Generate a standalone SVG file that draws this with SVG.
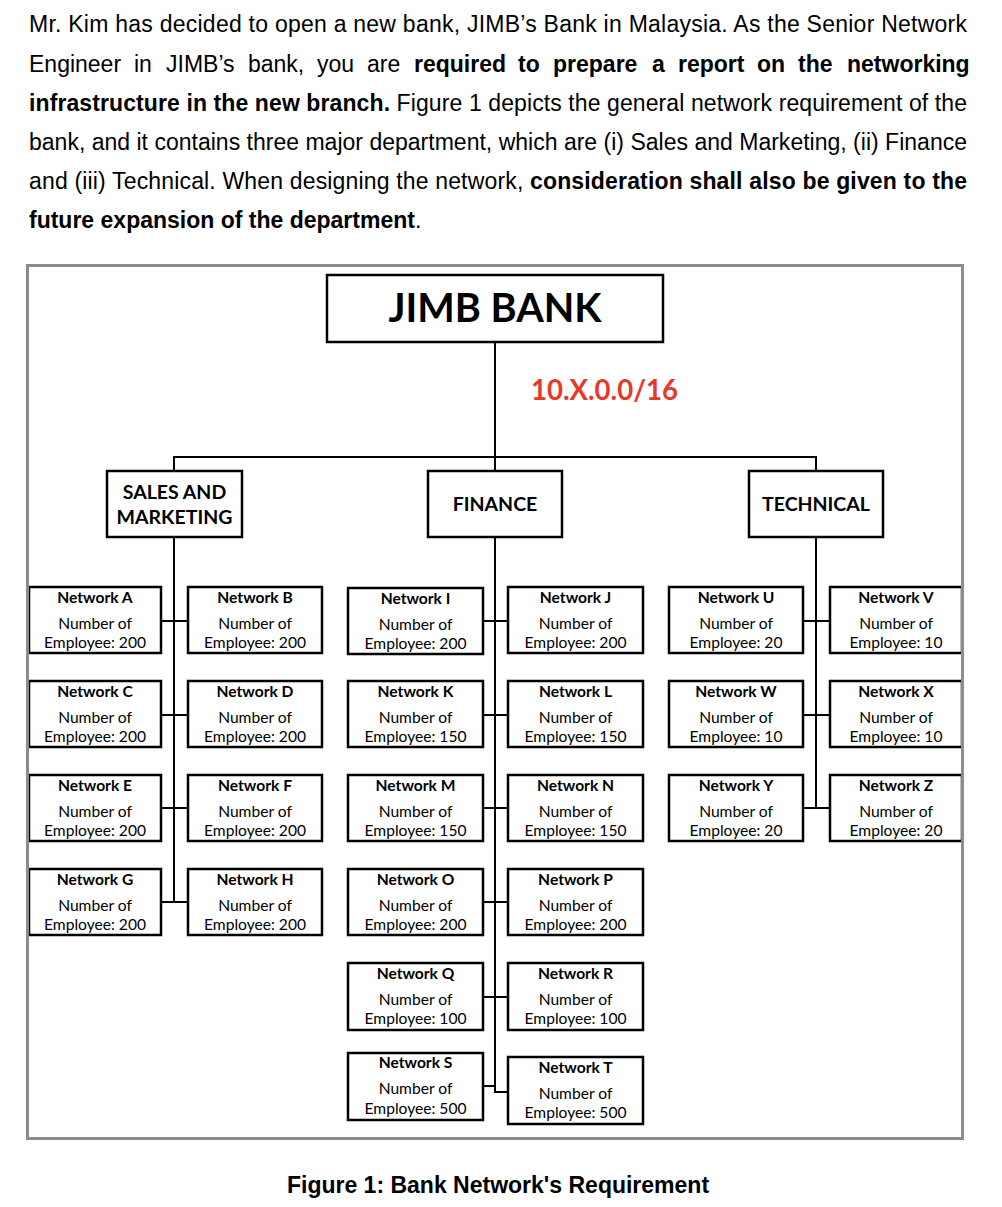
<svg xmlns="http://www.w3.org/2000/svg" width="1002" height="1207" viewBox="0 0 1002 1207">
<style>
.p{font-family:"Liberation Sans",Arial,sans-serif;font-size:23px;fill:#000}
.b{font-weight:bold}
.box{fill:#fff;stroke:#000;stroke-width:2.5}
.c{fill:none;stroke:#000;stroke-width:2}
.t{font-family:Lato,"Open Sans",sans-serif;font-size:15.6px;fill:#000;text-anchor:middle}
.tb{font-weight:bold}
.dept{font-family:Lato,"Open Sans",sans-serif;font-size:19.5px;font-weight:bold;text-anchor:middle}
</style>
<rect width="1002" height="1207" fill="#fff"/>
<g id="paragraph">
<text class="p" x="29" y="32" textLength="938" lengthAdjust="spacing">Mr. Kim has decided to open a new bank, JIMB’s Bank in Malaysia. As the Senior Network</text>
<text class="p" y="71.5"><tspan x="29">Engineer</tspan><tspan x="134">in</tspan><tspan x="166">JIMB’s</tspan><tspan x="248">bank,</tspan><tspan x="317">you</tspan><tspan x="367">are</tspan><tspan class="b" x="414">required</tspan><tspan class="b" x="518">to</tspan><tspan class="b" x="553">prepare</tspan><tspan class="b" x="652">a</tspan><tspan class="b" x="678">report</tspan><tspan class="b" x="757">on</tspan><tspan class="b" x="798">the</tspan><tspan class="b" x="847">networking</tspan></text>
<text class="p" x="29" y="110.5" textLength="938" lengthAdjust="spacing"><tspan class="b">infrastructure in the new branch.</tspan> Figure 1 depicts the general network requirement of the</text>
<text class="p" x="29" y="149.5" textLength="938" lengthAdjust="spacing">bank, and it contains three major department, which are (i) Sales and Marketing, (ii) Finance</text>
<text class="p" x="29" y="188.5" textLength="938" lengthAdjust="spacing">and (iii) Technical. When designing the network, <tspan class="b">consideration shall also be given to the</tspan></text>
<text class="p" x="29" y="227.5"><tspan class="b">future expansion of the department</tspan>.</text>
</g>
<g id="connectors">
<path class="c" d="M495 342V471M174 471V457H816V471"/>
<path class="c" d="M174 537V902M161 621H188M161 715H188M161 808H188M161 902H188"/>
<path class="c" d="M495 537V1092H508M483 621H508M483 715H508M483 808H508M483 902H508M483 997H508M483 1086H495"/>
<path class="c" d="M816 537V808M803 621H830M803 715H830M803 808H830"/>
</g>
<g id="jimb-bank">
<rect class="box" x="327" y="275" width="336" height="67"/>
<text x="495" y="322" style="font-family:Lato,'Open Sans',sans-serif;font-size:39.7px;font-weight:bold;text-anchor:middle">JIMB BANK</text>
</g>
<text id="subnet" x="531" y="400" style="font-family:Lato,'Open Sans',sans-serif;font-size:27.6px;font-weight:bold;fill:#e5392a">10.X.0.0/16</text>
<g id="sales"><rect class="box" x="107" y="471" width="135" height="66"/><text class="dept" x="174.5" y="499">SALES AND</text><text class="dept" x="174.5" y="524">MARKETING</text></g>
<g id="finance"><rect class="box" x="428" y="471" width="134" height="66"/><text class="dept" x="495" y="511">FINANCE</text></g>
<g id="technical"><rect class="box" x="749" y="471" width="134" height="66"/><text class="dept" x="816" y="511">TECHNICAL</text></g>

<g id="net-A"><rect class="box" x="29" y="587" width="132" height="66"/><text class="t tb" x="95" y="603">Network A</text><text class="t" x="95" y="629">Number of</text><text class="t" x="95" y="648">Employee: 200</text></g>
<g id="net-B"><rect class="box" x="188" y="587" width="134" height="66"/><text class="t tb" x="255" y="603">Network B</text><text class="t" x="255" y="629">Number of</text><text class="t" x="255" y="648">Employee: 200</text></g>
<g id="net-C"><rect class="box" x="29" y="681" width="132" height="66"/><text class="t tb" x="95" y="697">Network C</text><text class="t" x="95" y="723">Number of</text><text class="t" x="95" y="742">Employee: 200</text></g>
<g id="net-D"><rect class="box" x="188" y="681" width="134" height="66"/><text class="t tb" x="255" y="697">Network D</text><text class="t" x="255" y="723">Number of</text><text class="t" x="255" y="742">Employee: 200</text></g>
<g id="net-E"><rect class="box" x="29" y="775" width="132" height="66"/><text class="t tb" x="95" y="791">Network E</text><text class="t" x="95" y="817">Number of</text><text class="t" x="95" y="836">Employee: 200</text></g>
<g id="net-F"><rect class="box" x="188" y="775" width="134" height="66"/><text class="t tb" x="255" y="791">Network F</text><text class="t" x="255" y="817">Number of</text><text class="t" x="255" y="836">Employee: 200</text></g>
<g id="net-G"><rect class="box" x="29" y="869" width="132" height="66"/><text class="t tb" x="95" y="885">Network G</text><text class="t" x="95" y="911">Number of</text><text class="t" x="95" y="930">Employee: 200</text></g>
<g id="net-H"><rect class="box" x="188" y="869" width="134" height="66"/><text class="t tb" x="255" y="885">Network H</text><text class="t" x="255" y="911">Number of</text><text class="t" x="255" y="930">Employee: 200</text></g>

<g id="net-I"><rect class="box" x="348" y="588" width="135" height="66"/><text class="t tb" x="415.5" y="604">Network I</text><text class="t" x="415.5" y="630">Number of</text><text class="t" x="415.5" y="649">Employee: 200</text></g>
<g id="net-J"><rect class="box" x="508" y="587" width="135" height="66"/><text class="t tb" x="575.5" y="603">Network J</text><text class="t" x="575.5" y="629">Number of</text><text class="t" x="575.5" y="648">Employee: 200</text></g>
<g id="net-K"><rect class="box" x="348" y="681" width="135" height="66"/><text class="t tb" x="415.5" y="697">Network K</text><text class="t" x="415.5" y="723">Number of</text><text class="t" x="415.5" y="742">Employee: 150</text></g>
<g id="net-L"><rect class="box" x="508" y="681" width="135" height="66"/><text class="t tb" x="575.5" y="697">Network L</text><text class="t" x="575.5" y="723">Number of</text><text class="t" x="575.5" y="742">Employee: 150</text></g>
<g id="net-M"><rect class="box" x="348" y="775" width="135" height="66"/><text class="t tb" x="415.5" y="791">Network M</text><text class="t" x="415.5" y="817">Number of</text><text class="t" x="415.5" y="836">Employee: 150</text></g>
<g id="net-N"><rect class="box" x="508" y="775" width="135" height="66"/><text class="t tb" x="575.5" y="791">Network N</text><text class="t" x="575.5" y="817">Number of</text><text class="t" x="575.5" y="836">Employee: 150</text></g>
<g id="net-O"><rect class="box" x="348" y="869" width="135" height="66"/><text class="t tb" x="415.5" y="885">Network O</text><text class="t" x="415.5" y="911">Number of</text><text class="t" x="415.5" y="930">Employee: 200</text></g>
<g id="net-P"><rect class="box" x="508" y="869" width="135" height="66"/><text class="t tb" x="575.5" y="885">Network P</text><text class="t" x="575.5" y="911">Number of</text><text class="t" x="575.5" y="930">Employee: 200</text></g>
<g id="net-Q"><rect class="box" x="348" y="963" width="135" height="67"/><text class="t tb" x="415.5" y="979">Network Q</text><text class="t" x="415.5" y="1005">Number of</text><text class="t" x="415.5" y="1024">Employee: 100</text></g>
<g id="net-R"><rect class="box" x="508" y="963" width="135" height="67"/><text class="t tb" x="575.5" y="979">Network R</text><text class="t" x="575.5" y="1005">Number of</text><text class="t" x="575.5" y="1024">Employee: 100</text></g>
<g id="net-S"><rect class="box" x="348" y="1053" width="135" height="67"/><text class="t tb" x="415.5" y="1068">Network S</text><text class="t" x="415.5" y="1094">Number of</text><text class="t" x="415.5" y="1114">Employee: 500</text></g>
<g id="net-T"><rect class="box" x="508" y="1057" width="135" height="67"/><text class="t tb" x="575.5" y="1073">Network T</text><text class="t" x="575.5" y="1099">Number of</text><text class="t" x="575.5" y="1118">Employee: 500</text></g>

<g id="net-U"><rect class="box" x="669" y="587" width="134" height="66"/><text class="t tb" x="736" y="603">Network U</text><text class="t" x="736" y="629">Number of</text><text class="t" x="736" y="648">Employee: 20</text></g>
<g id="net-V"><rect class="box" x="830" y="587" width="132" height="66"/><text class="t tb" x="896" y="603">Network V</text><text class="t" x="896" y="629">Number of</text><text class="t" x="896" y="648">Employee: 10</text></g>
<g id="net-W"><rect class="box" x="669" y="681" width="134" height="66"/><text class="t tb" x="736" y="697">Network W</text><text class="t" x="736" y="723">Number of</text><text class="t" x="736" y="742">Employee: 10</text></g>
<g id="net-X"><rect class="box" x="830" y="681" width="132" height="66"/><text class="t tb" x="896" y="697">Network X</text><text class="t" x="896" y="723">Number of</text><text class="t" x="896" y="742">Employee: 10</text></g>
<g id="net-Y"><rect class="box" x="669" y="775" width="134" height="66"/><text class="t tb" x="736" y="791">Network Y</text><text class="t" x="736" y="817">Number of</text><text class="t" x="736" y="836">Employee: 20</text></g>
<g id="net-Z"><rect class="box" x="830" y="775" width="132" height="66"/><text class="t tb" x="896" y="791">Network Z</text><text class="t" x="896" y="817">Number of</text><text class="t" x="896" y="836">Employee: 20</text></g>

<rect id="frame" x="27.5" y="265.5" width="935" height="873" fill="none" stroke="#8c8c8c" stroke-width="3"/>
<text id="caption" x="498" y="1193" style="font-family:'Liberation Sans',Arial,sans-serif;font-size:23px;font-weight:bold;text-anchor:middle">Figure 1: Bank Network's Requirement</text>
</svg>
